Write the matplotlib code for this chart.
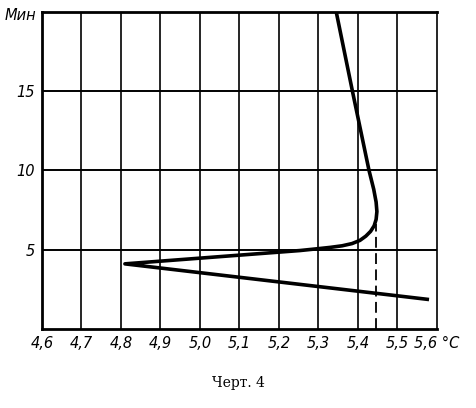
import matplotlib
matplotlib.use('Agg')
from matplotlib import pyplot as plt
import numpy as np

# temperature (deg C) vs time (min)
temp = [5.345, 5.386, 5.428, 5.440, 5.446, 5.448, 5.446, 5.441, 5.432, 5.420,
        5.405, 5.385, 5.360, 5.330, 5.300, 5.253, 4.81, 5.58]
minutes = [20.0, 15.0, 10.0, 8.8, 8.0, 7.4, 6.9, 6.5, 6.15, 5.85,
           5.58, 5.38, 5.24, 5.14, 5.06, 4.94, 4.1, 1.85]

dash_x = 5.445
dash_top = 6.6

xticks = np.round(np.arange(4.6, 5.61, 0.1), 1)
xlabels = [('%.1f' % v).replace('.', ',') for v in xticks]
xlabels[-1] = xlabels[-1] + ' \u00b0C'
yticks = [5, 10, 15]
ylabels = ['5', '10', '15']

fig = plt.figure(figsize=(4.77, 4.08), dpi=100)
ax = fig.add_axes([0.088, 0.194, 0.828, 0.777])

for v in xticks[1:-1]:
    ax.axvline(v, color='black', lw=1.2, zorder=1)
for v in yticks:
    ax.axhline(v, color='black', lw=1.4, zorder=1)

ax.plot(temp, minutes, color='black', lw=2.6, solid_capstyle='butt',
        solid_joinstyle='round', zorder=3)
ax.plot([dash_x, dash_x], [0, dash_top], color='black', lw=1.3,
        dashes=(6, 3), zorder=2)

ax.set_xlim(4.6, 5.6)
ax.set_ylim(0, 20)
ax.set_xticks(xticks)
ax.set_xticklabels(xlabels)
ax.set_yticks(yticks)
ax.set_yticklabels(ylabels)
ax.tick_params(length=0, pad=5)
for lab in ax.get_xticklabels() + ax.get_yticklabels():
    lab.set_fontstyle('italic')
    lab.set_fontsize(10.5)
    lab.set_family(['Liberation Sans Narrow', 'DejaVu Sans'])

for side in ['left', 'bottom', 'top']:
    ax.spines[side].set_linewidth(2.0)
ax.spines['right'].set_linewidth(1.2)

ax.text(-0.015, 0.99, 'Мин', transform=ax.transAxes, ha='right', va='center',
        fontsize=10.5, fontstyle='italic',
        family=['Liberation Sans Narrow', 'DejaVu Sans'])

fig.text(0.50, 0.062, 'Черт. 4', ha='center', va='center', fontsize=10,
         family='DejaVu Serif')

plt.savefig('out.png', dpi=100)
